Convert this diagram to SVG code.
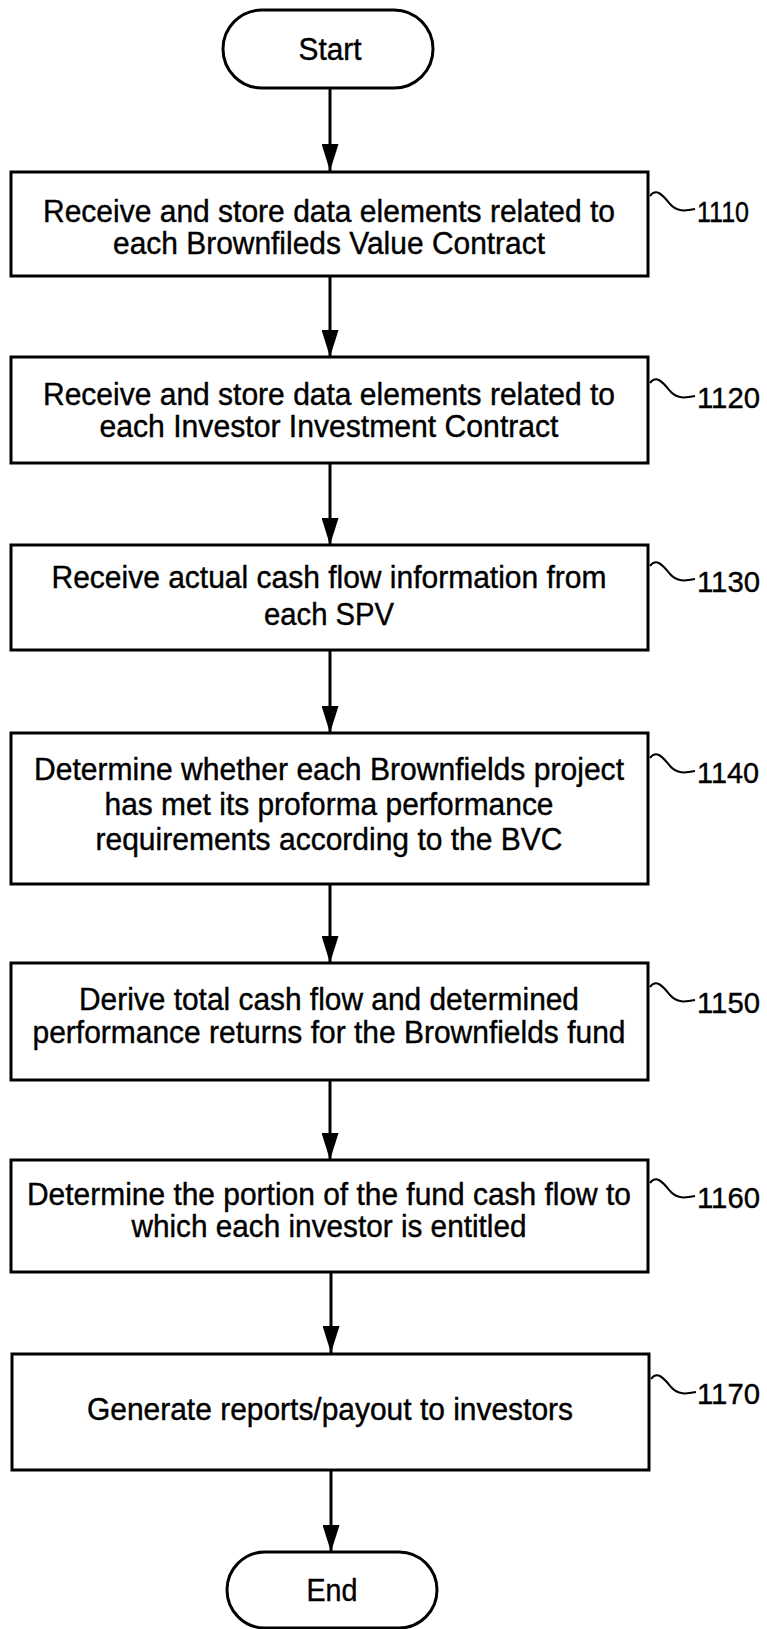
<svg xmlns="http://www.w3.org/2000/svg" width="767" height="1629" viewBox="0 0 767 1629">
<style>
.box{fill:#fff;stroke:#000;stroke-width:3}
.t{font-family:"Liberation Sans Narrow","Liberation Sans",Arial,sans-serif;font-size:31px;fill:#000;text-anchor:middle;stroke:#000;stroke-width:0.4}
.n{font-family:"Liberation Sans Narrow","Liberation Sans",Arial,sans-serif;font-size:30px;fill:#000;stroke:#000;stroke-width:0.4}
.lead{fill:none;stroke:#000;stroke-width:2}
.conn{stroke:#000;stroke-width:3;fill:none}
</style>
<defs>
<marker id="ah" markerUnits="userSpaceOnUse" markerWidth="27" markerHeight="17" viewBox="0 0 27 17" refX="27" refY="8.5" orient="auto">
<path d="M0,0 L27,8.5 L0,17 Z" fill="#000"/>
</marker>
</defs>
<rect width="767" height="1629" fill="#fff"/>
<g id="connectors">
<line class="conn" x1="330" y1="88" x2="330" y2="171" marker-end="url(#ah)"/>
<line class="conn" x1="330" y1="276" x2="330" y2="357" marker-end="url(#ah)"/>
<line class="conn" x1="330" y1="463" x2="330" y2="545" marker-end="url(#ah)"/>
<line class="conn" x1="330" y1="650" x2="330" y2="733" marker-end="url(#ah)"/>
<line class="conn" x1="330" y1="884" x2="330" y2="963" marker-end="url(#ah)"/>
<line class="conn" x1="330" y1="1080" x2="330" y2="1160" marker-end="url(#ah)"/>
<line class="conn" x1="331" y1="1272" x2="331" y2="1353" marker-end="url(#ah)"/>
<line class="conn" x1="331" y1="1470" x2="331" y2="1552" marker-end="url(#ah)"/>
</g>
<g id="start">
<rect class="box" x="223" y="10" width="210" height="78" rx="39" ry="39"/>
<text class="t" x="330" y="60" textLength="63" lengthAdjust="spacingAndGlyphs">Start</text>
</g>
<g id="n1110">
<rect class="box" x="11" y="172" width="637" height="104"/>
<text class="t" x="329" y="222" textLength="572" lengthAdjust="spacingAndGlyphs">Receive and store data elements related to</text>
<text class="t" x="329" y="254" textLength="432" lengthAdjust="spacingAndGlyphs">each Brownfileds Value Contract</text>
<path class="lead" d="M650,196 C656,188 662,194 670,204 C677,212 685,211 695,209"/>
<text class="n" x="697" y="222" textLength="52" lengthAdjust="spacingAndGlyphs">1110</text>
</g>
<g id="n1120">
<rect class="box" x="11" y="357" width="637" height="106"/>
<text class="t" x="329" y="405" textLength="572" lengthAdjust="spacingAndGlyphs">Receive and store data elements related to</text>
<text class="t" x="329" y="437" textLength="459" lengthAdjust="spacingAndGlyphs">each Investor Investment Contract</text>
<path class="lead" d="M650,383 C656,375 662,381 670,391 C677,399 685,398 695,396"/>
<text class="n" x="697" y="408" textLength="63" lengthAdjust="spacingAndGlyphs">1120</text>
</g>
<g id="n1130">
<rect class="box" x="11" y="545" width="637" height="105"/>
<text class="t" x="329" y="588" textLength="555" lengthAdjust="spacingAndGlyphs">Receive actual cash flow information from</text>
<text class="t" x="329" y="625" textLength="130" lengthAdjust="spacingAndGlyphs">each SPV</text>
<path class="lead" d="M650,566 C656,558 662,564 670,574 C677,582 685,581 695,579"/>
<text class="n" x="697" y="592" textLength="63" lengthAdjust="spacingAndGlyphs">1130</text>
</g>
<g id="n1140">
<rect class="box" x="11" y="733" width="637" height="151"/>
<text class="t" x="329" y="780" textLength="590" lengthAdjust="spacingAndGlyphs">Determine whether each Brownfields project</text>
<text class="t" x="329" y="815" textLength="449" lengthAdjust="spacingAndGlyphs">has met its proforma performance</text>
<text class="t" x="329" y="850" textLength="467" lengthAdjust="spacingAndGlyphs">requirements according to the BVC</text>
<path class="lead" d="M650,758 C656,750 662,756 670,766 C677,774 685,773 695,771"/>
<text class="n" x="697" y="783" textLength="62" lengthAdjust="spacingAndGlyphs">1140</text>
</g>
<g id="n1150">
<rect class="box" x="11" y="963" width="637" height="117"/>
<text class="t" x="329" y="1010" textLength="500" lengthAdjust="spacingAndGlyphs">Derive total cash flow and determined</text>
<text class="t" x="329" y="1043" textLength="593" lengthAdjust="spacingAndGlyphs">performance returns for the Brownfields fund</text>
<path class="lead" d="M650,987 C656,979 662,985 670,995 C677,1003 685,1002 695,1000"/>
<text class="n" x="697" y="1013" textLength="63" lengthAdjust="spacingAndGlyphs">1150</text>
</g>
<g id="n1160">
<rect class="box" x="11" y="1160" width="637" height="112"/>
<text class="t" x="329" y="1205" textLength="604" lengthAdjust="spacingAndGlyphs">Determine the portion of the fund cash flow to</text>
<text class="t" x="329" y="1237" textLength="395" lengthAdjust="spacingAndGlyphs">which each investor is entitled</text>
<path class="lead" d="M650,1183 C656,1175 662,1181 670,1191 C677,1199 685,1198 695,1196"/>
<text class="n" x="697" y="1208" textLength="63" lengthAdjust="spacingAndGlyphs">1160</text>
</g>
<g id="n1170">
<rect class="box" x="12" y="1354" width="637" height="116"/>
<text class="t" x="330" y="1420" textLength="486" lengthAdjust="spacingAndGlyphs">Generate reports/payout to investors</text>
<path class="lead" d="M651,1379 C657,1371 663,1377 671,1387 C678,1395 686,1394 696,1392"/>
<text class="n" x="697" y="1404" textLength="63" lengthAdjust="spacingAndGlyphs">1170</text>
</g>
<g id="end">
<rect class="box" x="227" y="1552" width="210" height="76" rx="38" ry="38"/>
<text class="t" x="332" y="1601" textLength="51" lengthAdjust="spacingAndGlyphs">End</text>
</g>
</svg>
